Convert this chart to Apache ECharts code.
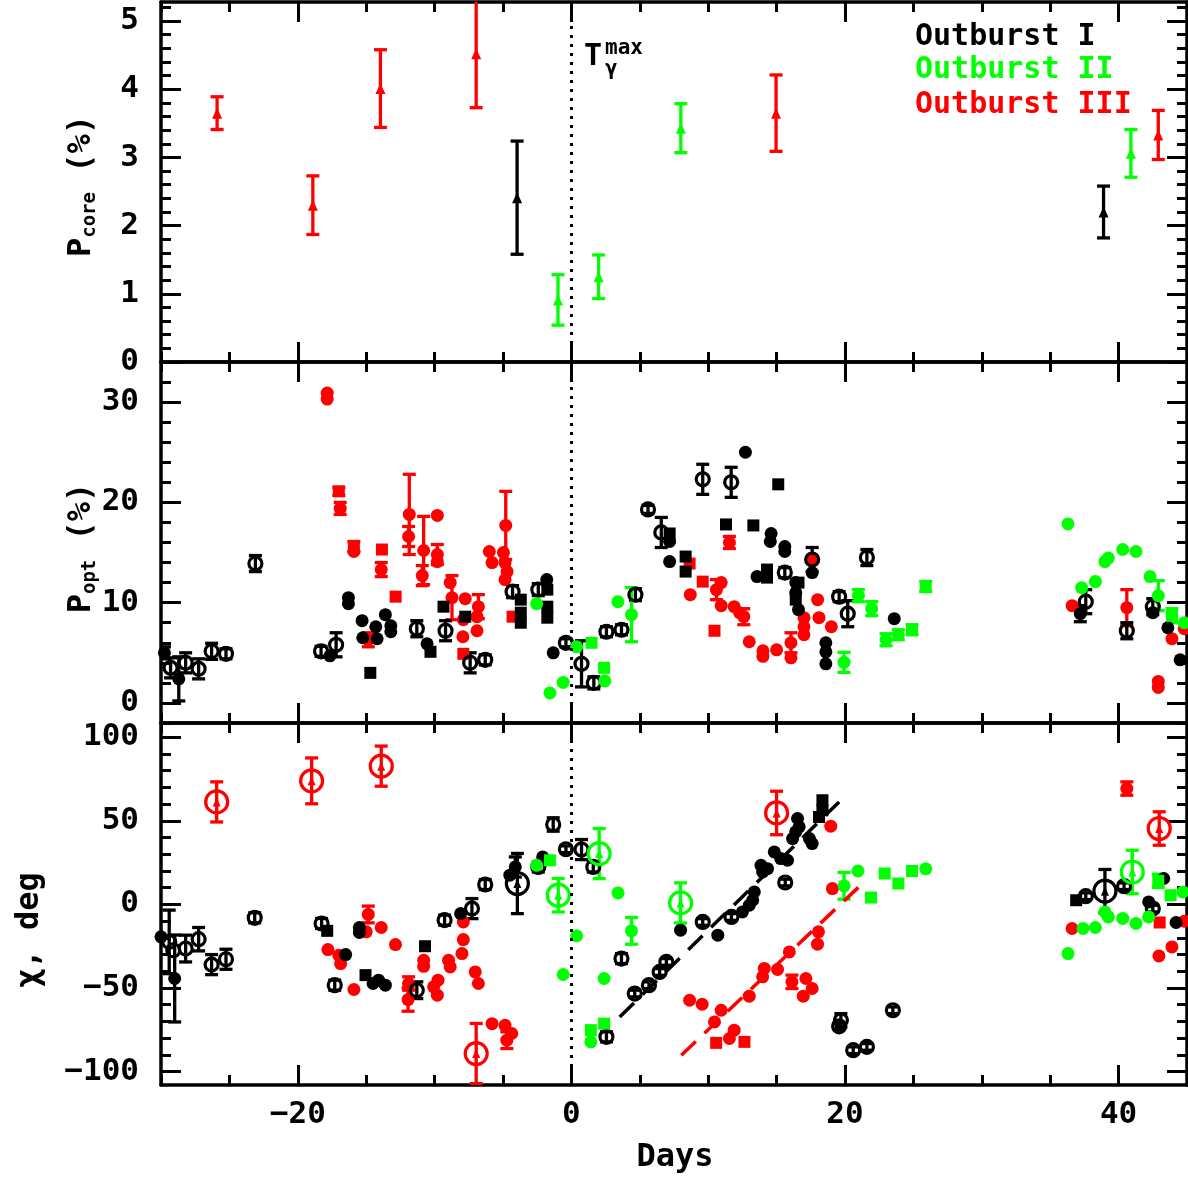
<!DOCTYPE html>
<html><head><meta charset="utf-8">
<script src="https://cdn.jsdelivr.net/npm/echarts@6/dist/echarts.min.js"></script>
<style>html,body{margin:0;padding:0;background:#fff}#c{width:1188px;height:1179px}</style>
</head><body><div id="c"></div>
<script>
// ================= DATA: [day, value, error] =================
// Panel 1: P_core (%)
const coreI   = [[-3.97, 2.41, 0.83], [38.9, 2.20, 0.38]];
const coreII  = [[-0.98, 0.91, 0.37], [1.99, 1.25, 0.32], [8.0, 3.43, 0.36], [40.9, 3.06, 0.35]];
const coreIII = [[-25.9, 3.65, 0.24], [-18.9, 2.30, 0.43], [-13.96, 4.01, 0.57], [-6.96, 4.52, 0.79], [14.96, 3.65, 0.56], [42.9, 3.33, 0.36]];

// Panel 2: P_opt (%)
const optI_open = [[-29.3, 3.5, 1], [-28.2, 4.0, 1], [-27.25, 3.4, 1], [-26.3, 5.15, 0.8], [-25.25, 4.9, 0.5], [-23.1, 13.9, 0.8], [-18.3, 5.15, 0.5], [-17.2, 5.8, 1.2], [-11.3, 7.4, 0.8], [-9.2, 7.2, 1], [-7.4, 4.0, 1], [-6.3, 4.3, 0.5], [-4.3, 11.1, 0.6], [-2.42, 11.3, 0.6], [-0.4, 6.0, 0.4], [0.74, 3.9, 2.3], [1.64, 2.0, 0.6], [2.56, 7.1, 0.5], [3.66, 7.3, 0.5], [4.68, 10.8, 0.6], [5.6, 19.3, 0.4], [6.57, 17.0, 1.5], [9.6, 22.3, 1.5], [11.68, 22.0, 1.5], [15.6, 13.0, 0.5], [17.6, 14.3, 1.2], [19.57, 10.6, 0.5], [20.2, 8.9, 1.3], [21.6, 14.5, 0.8], [37.6, 10.1, 1.2], [40.6, 7.2, 0.8], [42.5, 9.6, 0.8]];
const optI_dot = [[-29.75, 5.0, 0.6], [-28.7, 2.4, 2.2], [-17.65, 4.7], [-16.3, 10.5], [-16.3, 9.9], [-15.3, 8.2], [-15.25, 6.5], [-14.3, 7.6], [-14.2, 6.4], [-13.6, 8.8], [-13.2, 7.1], [-13.2, 7.7], [-10.55, 5.9], [-1.8, 12.3], [-1.33, 5.0], [7.18, 16.1], [7.18, 14.1], [12.72, 25.0], [14.6, 16.9], [14.54, 16.1], [15.6, 15.6], [15.6, 15.1], [13.57, 12.6], [17.6, 13.0], [16.4, 12.0], [16.4, 11.0], [16.6, 9.3], [18.6, 6.0], [18.6, 5.1], [18.6, 3.9], [23.6, 8.4], [37.2, 8.9, 0.8], [42.5, 9.0], [43.6, 7.5], [44.5, 4.3]];
const optI_sq = [[-14.7, 3.0], [-10.3, 5.1], [-9.35, 9.6], [-7.76, 8.6], [-3.7, 10.3], [-3.7, 9.0], [-3.7, 8.0], [-1.76, 11.3], [-1.76, 9.6], [-1.76, 8.5], [7.18, 16.9], [8.35, 14.6], [8.35, 13.1], [11.3, 17.8], [13.3, 17.7], [15.12, 21.8], [14.3, 13.3], [14.3, 12.5], [16.6, 12.0], [16.4, 10.3]];
const optIII_dot = [[-17.85, 30.9], [-17.85, 30.3], [-16.9, 19.4, 0.6], [-15.9, 15.1], [-14.85, 6.3, 0.7], [-13.9, 13.3, 0.7], [-11.85, 18.8, 4.0], [-11.9, 16.6, 1.0], [-10.8, 15.2, 3.4], [-10.9, 12.7, 1.0], [-9.8, 18.7], [-9.8, 14.8, 1.0], [-9.8, 14.1], [-8.86, 12.0], [-8.73, 10.5, 2.2], [-7.76, 10.4], [-7.9, 8.3], [-7.93, 6.6], [-6.8, 9.6, 1.2], [-6.9, 8.6], [-6.9, 7.2], [-6.0, 15.1], [-5.8, 14.0], [-4.8, 17.7, 3.4], [-4.97, 15.0], [-4.85, 14.0], [-4.7, 13.1], [-4.85, 12.3], [8.69, 10.8], [10.6, 11.3, 1.0], [10.95, 12.0], [10.95, 9.7], [11.55, 16.0, 0.6], [11.9, 9.6], [12.3, 9.0], [12.6, 8.6, 0.8], [13.0, 6.1], [14.0, 5.2], [14.0, 4.65], [15.0, 5.3], [16.05, 6.0, 1.0], [16.05, 4.5], [17.0, 6.8], [17.0, 7.6], [17.0, 8.5], [18.0, 10.3], [18.1, 8.5], [19.0, 7.6], [17.6, 14.3], [36.6, 9.7], [40.6, 9.5, 1.8], [43.9, 6.4], [44.8, 7.4], [42.9, 2.15], [42.9, 1.55]];
const optIII_sq = [[-17.0, 21.1, 0.4], [-15.9, 15.6, 0.5], [-13.85, 15.3], [-12.85, 10.6], [-7.9, 4.9], [-4.3, 8.6], [8.64, 13.9], [9.6, 12.1], [10.46, 7.2]];
const optII_dot = [[-2.54, 9.9], [-1.57, 1.0], [-0.6, 2.05], [0.38, 5.6], [2.44, 2.2], [3.4, 10.1], [4.39, 8.8, 2.7], [19.93, 4.05, 1.0], [20.98, 10.7, 0.6], [21.95, 9.4, 0.7], [23.0, 6.3, 0.6], [23.9, 6.8, 0.5], [36.3, 17.85], [37.3, 11.5], [38.3, 12.1], [39.0, 14.1], [39.25, 14.45], [40.3, 15.3], [41.27, 15.1], [42.3, 12.6], [42.9, 10.7, 1.5], [44.8, 8.0]];
const optII_sq = [[1.47, 6.0], [2.39, 3.5], [24.9, 7.3, 0.5], [25.9, 11.6, 0.5], [43.9, 8.7, 0.7]];

// Panel 3: chi (deg)
const chiI_open = [[-29.4, -22.4, 19], [-29.1, -27.4], [-28.2, -26.4, 8], [-27.25, -20.8, 7], [-26.3, -36, 6], [-25.25, -32.8, 6], [-23.15, -8.0, 3], [-18.26, -11.4, 3], [-17.3, -48.3, 3], [-11.3, -51.3, 5], [-9.27, -9.4, 3], [-7.27, -2.5, 6], [-6.3, 11.9, 3], [-2.42, 22.4, 3], [-1.33, 47.8, 4], [-0.4, 33.0, 2], [0.74, 32.8, 6], [1.6, 22.4, 3], [2.56, -79.2, 3], [3.66, -32.4, 3], [4.63, -53.3, 2], [5.67, -48.3, 2], [6.45, -40.4, 2], [6.94, -34.4, 2], [9.6, -10.5, 2], [11.7, -7.5, 2], [15.63, 13.1, 2], [19.7, -69.3, 4], [19.57, -72.9, 2], [20.6, -87.2, 2], [21.6, -85.2, 2], [23.5, -63.3, 2], [37.6, 4.9, 2], [40.4, 10.9, 2], [42.5, -2.5, 2]];
const chiI_dot = [[-30.0, -19.4], [-29.0, -44.3, 26], [-16.5, -30], [-15.5, -13.8], [-15.5, -16.8], [-14.5, -47.3], [-14.1, -45.3], [-13.6, -48.3], [-8.1, -5.5], [-4.5, 17.5], [-4.1, 22.4, 6], [-2.1, 28.4], [7.98, -15.4], [10.7, -18.4], [12.5, -4.5], [13.0, -0.5], [13.25, 2.5], [13.37, 7.5], [13.86, 23.4], [13.98, 19.4], [14.34, 21.4], [14.83, 31.4], [15.3, 27.4], [15.8, 26.4], [16.17, 39.4], [16.4, 43.4], [16.53, 51.4], [16.65, 46.4], [17.4, 39.4], [17.6, 36.4], [42.2, 1.5], [43.3, 15.5], [44.2, -10.8]];
const chiI_sq = [[-17.85, -15.8], [-15.05, -42.3], [-10.7, -25.0], [18.1, 52.3], [18.35, 56.3], [18.35, 62.3], [36.9, 2.5]];
const chiI_big = [[-3.95, 12.5, 18], [39.0, 7.9, 13]];
const chiIII_dot = [[-17.8, -27.0], [-17.0, -30.4], [-16.87, -35.4], [-15.9, -50.9], [-14.85, -6.0, 5], [-15.0, -16.4], [-13.9, -13.8], [-12.86, -24.0], [-11.9, -47.3, 4], [-11.94, -56.9, 7], [-10.8, -33.4], [-10.8, -37], [-10.07, -49.3], [-9.75, -45.3], [-9.8, -54.3], [-8.98, -33.4], [-8.86, -37.4], [-7.9, -10.5], [-7.9, -21.0], [-8.0, -29.4], [-7.03, -40.4], [-6.8, -47.3], [-5.8, -71.3], [-4.85, -72.3], [-4.36, -77.2], [-4.72, -81.2, 5], [8.64, -57.3], [9.56, -59.7], [10.95, -63.3], [10.46, -70.3], [11.9, -75.2], [11.55, -80.2], [13.0, -54.9], [14.1, -38.3], [15.07, -38.9], [13.98, -43.3], [15.93, -28.4], [16.12, -46.3, 4], [17.14, -44.3], [17.6, -50.3], [16.95, -54.9], [18.06, -16.4], [17.99, -23.8], [18.96, 46.8], [19.08, 9.5], [36.6, -14.4], [40.6, 69.3, 4], [42.95, -30.8], [43.9, -25.4], [44.8, -10]];
const chiIII_sq = [[10.58, -82.8], [12.65, -82.2], [43.0, -10.8]];
const chiIII_big = [[-25.93, 61.3, 12], [-18.99, 73.9, 13.7], [-13.9, 82.7, 12], [-6.96, -89.2, 18], [15.0, 54.7, 13], [42.97, 45.4, 10]];
const chiII_dot = [[-2.54, 23.4], [-0.6, -41.9], [0.38, -18.8], [1.42, -82.2], [2.39, -44.3], [3.41, 6.9], [4.39, -15.8, 8], [19.93, 11.1, 8], [20.95, 20.0], [25.9, 21.3], [36.3, -29.4], [37.4, -14.4], [38.3, -13.8], [39.0, -4.5], [39.25, -7.5], [40.3, -8.4], [41.27, -11.4], [42.2, -7.5], [44.7, 7.5]];
const chiII_sq = [[-1.57, 26.4], [1.42, -75.2], [2.39, -71.3], [21.9, 4.1], [22.9, 18.5], [23.9, 12.5], [24.9, 20.0], [42.9, 14.1, 4], [43.8, 5.5]];
const chiII_big = [[-0.96, 5.5, 10], [2.03, 30.4, 15], [7.98, 0.9, 12], [41.0, 19.4, 13]];

// linear trends drawn as dashed lines (end points)
const trendI   = [[3.53, -67.3], [19.57, 61.3]];
const trendIII = [[8.03, -90.2], [21.27, 12.5]];

// ================= TICKS =================
const xMajor = [-20, 0, 20, 40];
const xMinor = [-30, -25, -20, -15, -10, -5, 0, 5, 10, 15, 20, 25, 30, 35, 40, 45];
const coreMajor = [0, 1, 2, 3, 4, 5];
const coreMinor = [0, 0.2, 0.4, 0.6, 0.8, 1, 1.2, 1.4, 1.6, 1.8, 2, 2.2, 2.4, 2.6, 2.8, 3, 3.2, 3.4, 3.6, 3.8, 4, 4.2, 4.4, 4.6, 4.8, 5, 5.2];
const optMajor = [0, 10, 20, 30];
const optMinor = [-2, 0, 2, 4, 6, 8, 10, 12, 14, 16, 18, 20, 22, 24, 26, 28, 30, 32, 34];
const chiMajor = [-100, -50, 0, 50, 100];
const chiMinor = [-100, -90, -80, -70, -60, -50, -40, -30, -20, -10, 0, 10, 20, 30, 40, 50, 60, 70, 80, 90, 100];

// ================= CHART =================
const BLACK = '#000000', GREEN = '#00ff00', RED = '#ff0000';
const FONT = 'DejaVu Sans Mono';
const fmt = v => (v < 0 ? '\u2212' + Math.abs(v) : String(v));

const gridTops = [2, 362, 723];
const gridHeights = [360, 361, 362];
const yRanges = [[0, 5.28], [-2, 34], [-108, 108.5]];
const yMajors = [coreMajor, optMajor, chiMajor];
const yMinors = [coreMinor, optMinor, chiMinor];

const grid = gridTops.map((t, i) => ({left: 161, right: 1, top: t, height: gridHeights[i]}));
const xAxis = [], yAxis = [];
const lineCol = {color: BLACK, width: 3.5};
const tickCol = {color: BLACK, width: 3};
const labelStyle = {color: BLACK, fontFamily: FONT, fontWeight: 'bold', fontSize: 31};

for (let p = 0; p < 3; p++) {
  for (const pos of ['bottom', 'top']) {
    xAxis.push({type: 'value', gridIndex: p, position: pos, min: -30, max: 45,
      axisLine: {show: true, onZero: false, lineStyle: lineCol},
      axisTick: {show: true, inside: true, length: 20, customValues: xMajor, lineStyle: tickCol},
      axisLabel: Object.assign({show: p === 2 && pos === 'bottom', customValues: xMajor, formatter: fmt, margin: 14}, labelStyle),
      splitLine: {show: false}});
    xAxis.push({type: 'value', gridIndex: p, position: pos, min: -30, max: 45,
      axisLine: {show: false, onZero: false},
      axisTick: {show: true, inside: true, length: 10, customValues: xMinor, lineStyle: tickCol},
      axisLabel: {show: false}, splitLine: {show: false}});
  }
  for (const pos of ['left', 'right']) {
    yAxis.push({type: 'value', gridIndex: p, position: pos, min: yRanges[p][0], max: yRanges[p][1],
      axisLine: {show: true, onZero: false, lineStyle: lineCol},
      axisTick: {show: true, inside: true, length: 20, customValues: yMajors[p], lineStyle: tickCol},
      axisLabel: Object.assign({show: pos === 'left', customValues: yMajors[p], formatter: fmt, margin: 22}, labelStyle),
      splitLine: {show: false}});
    yAxis.push({type: 'value', gridIndex: p, position: pos, min: yRanges[p][0], max: yRanges[p][1],
      axisLine: {show: false, onZero: false},
      axisTick: {show: true, inside: true, length: 10, customValues: yMinors[p], lineStyle: tickCol},
      axisLabel: {show: false}, splitLine: {show: false}});
  }
}

const series = [];

function errBars(data, p, color) {
  series.push({type: 'custom', xAxisIndex: 4 * p, yAxisIndex: 4 * p, clip: true, z: 2, silent: true,
    data: data.map(d => [d[0], d[1], d[2] || 0]),
    encode: {x: 0, y: 1},
    renderItem: (params, api) => {
      const x = api.value(0), y = api.value(1), e = api.value(2);
      if (!(e > 0)) return null;
      const t = api.coord([x, y + e]), b = api.coord([x, y - e]);
      const w = 6.5, st = {stroke: color, lineWidth: 3.3};
      return {type: 'group', children: [
        {type: 'line', shape: {x1: t[0], y1: t[1], x2: b[0], y2: b[1]}, style: st},
        {type: 'line', shape: {x1: t[0] - w, y1: t[1], x2: t[0] + w, y2: t[1]}, style: st},
        {type: 'line', shape: {x1: b[0] - w, y1: b[1], x2: b[0] + w, y2: b[1]}, style: st}
      ]};
    }});
}

function marks(data, p, color, kind) {
  errBars(data, p, color);
  const base = {type: 'scatter', xAxisIndex: 4 * p, yAxisIndex: 4 * p, clip: true, z: 3, silent: true,
    data: data.map(d => [d[0], d[1]])};
  if (kind === 'dot') Object.assign(base, {symbol: 'circle', symbolSize: 13, itemStyle: {color: color, opacity: 1}});
  if (kind === 'sq') Object.assign(base, {symbol: 'rect', symbolSize: 12, itemStyle: {color: color, opacity: 1}});
  if (kind === 'tri') Object.assign(base, {symbol: 'triangle', symbolSize: [10, 11], itemStyle: {color: color, opacity: 1}});
  if (kind === 'open') Object.assign(base, {symbol: 'circle', symbolSize: 13,
    itemStyle: {color: 'rgba(0,0,0,0)', borderColor: color, borderWidth: 3.2, opacity: 1}});
  if (kind === 'big') {
    Object.assign(base, {symbol: 'circle', symbolSize: 22,
      itemStyle: {color: 'rgba(0,0,0,0)', borderColor: color, borderWidth: 3.2, opacity: 1}});
    series.push(base);
    series.push({type: 'scatter', xAxisIndex: 4 * p, yAxisIndex: 4 * p, clip: true, z: 3, silent: true,
      data: data.map(d => [d[0], d[1]]), symbol: 'triangle', symbolSize: [8, 9], itemStyle: {color: color, opacity: 1}});
    return;
  }
  series.push(base);
}

// dotted T_gamma^max line in every panel
for (let p = 0; p < 3; p++) {
  series.push({type: 'line', xAxisIndex: 4 * p, yAxisIndex: 4 * p, data: [], z: 1, silent: true,
    markLine: {silent: true, symbol: ['none', 'none'], label: {show: false}, animation: false,
      lineStyle: {color: BLACK, type: [3, 6], width: 3}, data: [{xAxis: 0}]}});
}

// panel 1
marks(coreIII, 0, RED, 'tri');
marks(coreI, 0, BLACK, 'tri');
marks(coreII, 0, GREEN, 'tri');
// panel 2
marks(optIII_dot, 1, RED, 'dot');
marks(optIII_sq, 1, RED, 'sq');
marks(optI_dot, 1, BLACK, 'dot');
marks(optI_sq, 1, BLACK, 'sq');
marks(optI_open, 1, BLACK, 'open');
marks(optII_dot, 1, GREEN, 'dot');
marks(optII_sq, 1, GREEN, 'sq');
// panel 3
marks(chiIII_dot, 2, RED, 'dot');
marks(chiIII_sq, 2, RED, 'sq');
marks(chiIII_big, 2, RED, 'big');
marks(chiI_dot, 2, BLACK, 'dot');
marks(chiI_sq, 2, BLACK, 'sq');
marks(chiI_open, 2, BLACK, 'open');
marks(chiI_big, 2, BLACK, 'big');
marks(chiII_dot, 2, GREEN, 'dot');
marks(chiII_sq, 2, GREEN, 'sq');
marks(chiII_big, 2, GREEN, 'big');

series.push({type: 'line', xAxisIndex: 8, yAxisIndex: 8, data: trendI, showSymbol: false, symbol: 'none', z: 4, silent: true,
  lineStyle: {color: BLACK, width: 3.5, type: [20, 12]}});
series.push({type: 'line', xAxisIndex: 8, yAxisIndex: 8, data: trendIII, showSymbol: false, symbol: 'none', z: 4, silent: true,
  lineStyle: {color: RED, width: 3.5, type: [20, 12]}});

const bf = (s) => 'bold ' + s + 'px "' + FONT + '"';
const graphic = [
  {type: 'text', x: 915, y: 37, style: {text: 'Outburst I', fill: BLACK, font: bf(30), align: 'left', verticalAlign: 'middle'}},
  {type: 'text', x: 915, y: 70, style: {text: 'Outburst II', fill: GREEN, font: bf(30), align: 'left', verticalAlign: 'middle'}},
  {type: 'text', x: 915, y: 105, style: {text: 'Outburst III', fill: RED, font: bf(30), align: 'left', verticalAlign: 'middle'}},
  {type: 'text', x: 593, y: 57, style: {text: 'T', fill: BLACK, font: bf(30), align: 'center', verticalAlign: 'middle'}},
  {type: 'text', x: 605, y: 49, style: {text: 'max', fill: BLACK, font: bf(21), align: 'left', verticalAlign: 'middle'}},
  {type: 'text', x: 605, y: 70, style: {text: '\u03b3', fill: BLACK, font: bf(21), align: 'left', verticalAlign: 'middle'}},
  {type: 'text', x: 675, y: 1158, style: {text: 'Days', fill: BLACK, font: bf(32), align: 'center', verticalAlign: 'middle'}},
  {type: 'text', x: 82, y: 186, rotation: Math.PI / 2, style: {text: '{a|P}{s|core}{a| (%)}', align: 'center', verticalAlign: 'middle',
    rich: {a: {font: bf(32), fill: BLACK, lineHeight: 36}, s: {font: bf(19), fill: BLACK, lineHeight: 20, verticalAlign: 'bottom'}}}},
  {type: 'text', x: 82, y: 548, rotation: Math.PI / 2, style: {text: '{a|P}{s|opt}{a| (%)}', align: 'center', verticalAlign: 'middle',
    rich: {a: {font: bf(32), fill: BLACK, lineHeight: 36}, s: {font: bf(19), fill: BLACK, lineHeight: 20, verticalAlign: 'bottom'}}}},
  {type: 'text', x: 30, y: 930, rotation: Math.PI / 2, style: {text: '\u03c7, deg', fill: BLACK, font: bf(32), align: 'center', verticalAlign: 'middle'}}
];

const chart = echarts.init(document.getElementById('c'), null, {renderer: 'canvas'});
chart.setOption({animation: false, backgroundColor: '#ffffff', grid, xAxis, yAxis, series, graphic});
</script>
</body></html>
